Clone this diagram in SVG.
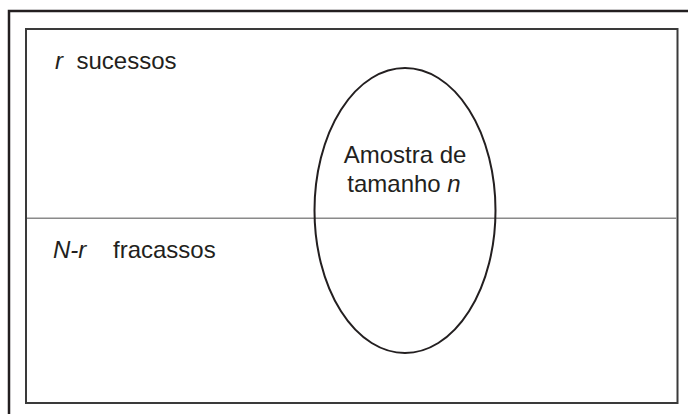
<svg xmlns="http://www.w3.org/2000/svg" width="688" height="414" viewBox="0 0 688 414">
<style>
.t{font-family:"Liberation Sans",Arial,sans-serif;font-size:24px;fill:#231f20}
.i{font-style:italic}
</style>
<rect x="0" y="0" width="688" height="414" fill="#fff"/>
<g id="frame">
<path d="M9,414 V11 H688" fill="none" stroke="#231f20" stroke-width="2.5"/>
<rect x="26" y="29" width="651.5" height="374" fill="none" stroke="#3a3a3a" stroke-width="2"/>
</g>
<g id="connectors">
<line x1="27" y1="218.3" x2="676.5" y2="218.3" stroke="#8a8a8a" stroke-width="1.6"/>
</g>
<g id="sucessos">
<text class="t i" x="55" y="69">r</text>
<text class="t" x="76.5" y="69">sucessos</text>
</g>
<g id="fracassos">
<text class="t i" x="53" y="258">N-r</text>
<text class="t" x="113" y="258">fracassos</text>
</g>
<g id="amostra">
<ellipse cx="405" cy="210.5" rx="90.5" ry="142.5" fill="none" stroke="#231f20" stroke-width="2"/>
<text class="t" x="405" y="163" text-anchor="middle">Amostra de</text>
<text class="t" x="404" y="191.5" text-anchor="middle">tamanho <tspan class="i">n</tspan></text>
</g>
</svg>
